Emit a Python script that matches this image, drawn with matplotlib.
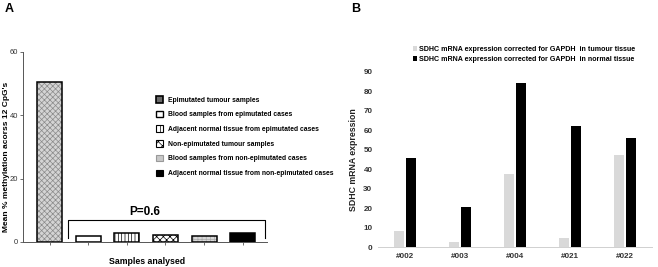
import matplotlib
matplotlib.use("Agg")
import matplotlib.pyplot as plt
from matplotlib.patches import Patch
import numpy as np

plt.rcParams['font.family'] = ['Liberation Sans', 'DejaVu Sans']
plt.rcParams['hatch.linewidth'] = 0.5

# Panel A data
groups_a = ["Epimutated tumour samples",
            "Blood samples from epimutated cases",
            "Adjacent normal tissue from epimutated cases",
            "Non-epimutated tumour samples",
            "Blood samples from non-epimutated cases",
            "Adjacent normal tissue from non-epimutated cases"]
values_a = [50.5, 1.8, 2.8, 2.1, 1.8, 2.8]
yticks_a = [0, 20, 40, 60]

# Panel B data
samples_b = ["#002", "#003", "#004", "#021", "#022"]
tumour_b = [8.0, 2.4, 37.4, 4.5, 47.3]
normal_b = [46.0, 20.4, 84.4, 62.4, 56.0]
yticks_b = list(range(0, 100, 10))
series_b = ["SDHC mRNA expression corrected for GAPDH  in tumour tissue",
            "SDHC mRNA expression corrected for GAPDH  in normal tissue"]

fig = plt.figure(figsize=(6.58, 2.67), dpi=100)

# ---------- Panel A ----------
axA = fig.add_axes([23/658, 1-242/267, (267-23)/658, (242-52)/267])
styles = [
    dict(facecolor="#d4d4d4", hatch="xxxxxx", hcolor="#8a8a8a"),
    dict(facecolor="white", hatch=None, hcolor="black"),
    dict(facecolor="white", hatch="|||||", hcolor="black"),
    dict(facecolor="white", hatch="xxxxx", hcolor="black"),
    dict(facecolor="#d8d8d8", hatch="++++", hcolor="#aaaaaa"),
    dict(facecolor="black", hatch=None, hcolor="black"),
]
x = np.arange(len(values_a))
for xi, v, st in zip(x, values_a, styles):
    axA.bar(xi, v, width=0.65, facecolor=st["facecolor"], edgecolor=st["hcolor"],
            linewidth=0, hatch=st["hatch"])
    axA.bar(xi, v, width=0.65, facecolor="none", edgecolor="black", linewidth=1.1)
axA.set_xlim(-0.69, 5.63)
axA.set_ylim(0, 60)
axA.set_yticks(yticks_a)
axA.set_xticks(x)
axA.set_xticklabels([])
axA.tick_params(axis='both', length=2.5, width=0.6, color="#555555", labelsize=5.5,
                labelcolor="#333333", pad=1)
for s in ["top", "right"]:
    axA.spines[s].set_visible(False)
for s in ["left", "bottom"]:
    axA.spines[s].set_color("#555555")
    axA.spines[s].set_linewidth(0.7)
fig.text(6.5/658, 1-157/267, "Mean % methylation acorss 12 CpG's", fontsize=6.0,
         fontweight='bold', rotation=90, ha='center', va='center')
fig.text(147/658, 1-262/267, "Samples analysed", fontsize=6.3, fontweight='bold',
         ha='center', va='center')

# bracket
bx0, bx1 = 0.48, 5.58
by0, by1 = 1.3, 6.9
axA.plot([bx0, bx0, bx1, bx1], [by0, by1, by1, by0], color="black", lw=0.8, clip_on=False)
axA.text(2.47, 9.4, "P=0.6", fontsize=8.5, fontweight='bold', ha='center', va='center')

leg_handles = [
    Patch(facecolor="#6a6a6a", edgecolor="black", linewidth=1.2),
    Patch(facecolor="white", edgecolor="black", linewidth=1.0),
    Patch(facecolor="white", edgecolor="black", hatch="||||", linewidth=0.8),
    Patch(facecolor="white", edgecolor="black", hatch="xxxx", linewidth=0.8),
    Patch(facecolor="#c8c8c8", edgecolor="#999999", linewidth=0.8),
    Patch(facecolor="black", edgecolor="black", linewidth=0.8),
]
fig.legend(leg_handles, groups_a, loc="upper left", bbox_to_anchor=(156/658, 1-96/267),
           frameon=False, handlelength=1.1, handleheight=1.1,
           handletextpad=0.6, labelspacing=1.05, borderaxespad=0, borderpad=0,
           prop=dict(weight='bold', size=4.9))

fig.text(5/658, 1-9/267, "A", fontsize=9, fontweight='bold', va='center', ha='left')

# ---------- Panel B ----------
axB = fig.add_axes([378/658, 1-247/267, (652-378)/658, (247-72)/267])
xb = np.arange(len(samples_b))
w = 0.18
axB.bar(xb - w/2 - 0.02, tumour_b, width=w, color="#d9d9d9", label=series_b[0])
axB.bar(xb + w/2 + 0.02, normal_b, width=w, color="black", label=series_b[1])
axB.set_xlim(-0.5, 4.5)
axB.set_ylim(0, 90)
axB.set_yticks(yticks_b)
axB.set_xticks(xb)
axB.set_xticklabels(samples_b)
axB.tick_params(axis='both', length=0, labelsize=5.8, labelcolor="#333333", pad=4)
for lab in axB.get_xticklabels() + axB.get_yticklabels():
    lab.set_fontweight('bold')
for s in ["top", "right", "left"]:
    axB.spines[s].set_visible(False)
axB.spines["bottom"].set_color("#d0d0d0")
axB.spines["bottom"].set_linewidth(0.7)
axB.set_ylabel("SDHC mRNA expression", fontsize=6.3, fontweight='bold', labelpad=4, color="#222222")
fig.legend(loc="upper left", bbox_to_anchor=(413/658, 1-46/267), frameon=False,
           handlelength=0.5, handleheight=0.6, handletextpad=0.3,
           labelspacing=0.45, borderaxespad=0, borderpad=0,
           handles=axB.containers[0].patches[:1] + axB.containers[1].patches[:1],
           labels=series_b, prop=dict(weight='bold', size=5.1))
fig.text(351/658, 1-9/267, "B", fontsize=9, fontweight='bold', va='center', ha='left')

fig.savefig("out.png", dpi=100)
